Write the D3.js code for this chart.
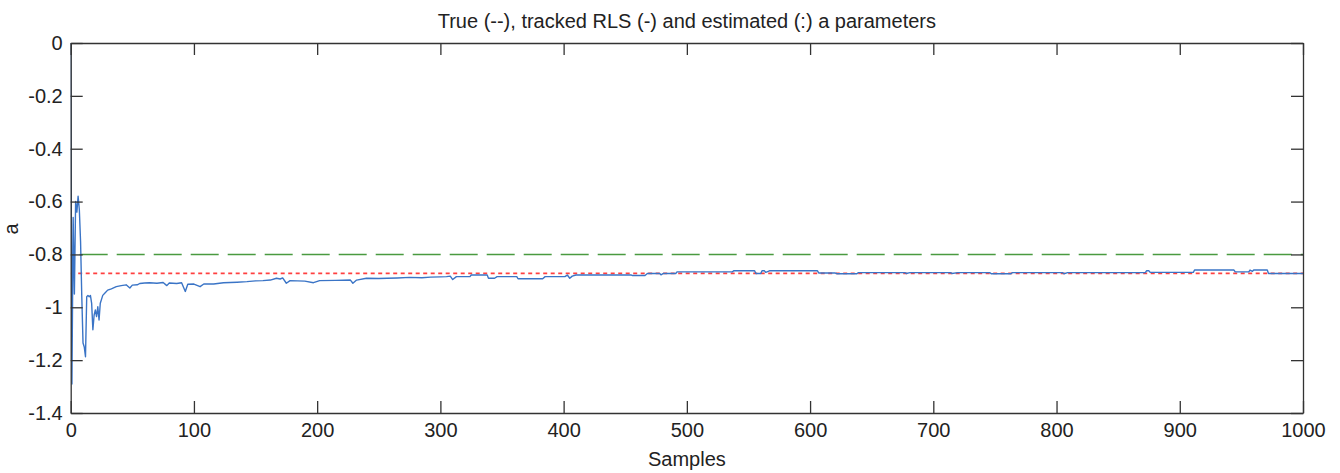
<!DOCTYPE html>
<html>
<head>
<meta charset="utf-8">
<script src="https://cdn.jsdelivr.net/npm/d3@7"></script>
<style>
  html, body { margin: 0; padding: 0; background: #fff; }
  svg { display: block; }
  text { font-family: "Liberation Sans", Arial, sans-serif; fill: #222; }
</style>
</head>
<body>
<svg id="chart" width="1340" height="473"></svg>
<script>
// ---- data ----
const titleText = "True (--), tracked RLS (-) and estimated (:) a parameters";
const xLabel = "Samples";
const yLabel = "a";
const xTicks = [0, 100, 200, 300, 400, 500, 600, 700, 800, 900, 1000];
const yTicks = [0, -0.2, -0.4, -0.6, -0.8, -1, -1.2, -1.4];
const yTickLabels = ["0", "-0.2", "-0.4", "-0.6", "-0.8", "-1", "-1.2", "-1.4"];
const xDomain = [0, 1000];
const yDomain = [-1.4, 0];

const trueValue = -0.8;
const estimatedValue = -0.872;

const rlsSamples = [
  0, 1, 2, 3, 4, 5, 6, 7, 8, 9, 10, 11, 12, 13, 14, 15, 16, 17, 18, 19, 20, 21, 22, 23, 24, 25, 26, 28, 30, 33,
  37, 41, 45, 48, 50, 54, 56, 60, 64, 70, 75, 78, 80, 86, 90, 93, 95, 100, 105, 108,
  116, 124, 135, 143, 150, 156, 162, 167, 170, 172, 175, 178, 190, 197, 202, 215, 227, 229, 232, 240,
  250, 257, 265, 275, 285, 292, 300, 305, 308, 310, 313, 324, 325, 338, 339, 344, 346, 362, 363, 383,
  385, 401, 403, 405, 407, 410, 455, 456, 466, 468, 478, 479, 481, 491, 492, 537, 538, 555, 556, 560,
  561, 563, 564, 567, 606, 607, 620, 622, 638, 639, 677, 678, 681, 714, 715, 720, 746, 747, 763, 764,
  805, 806, 809, 872, 873, 875, 876, 911, 912, 944, 945, 956, 957, 959, 960, 971, 972, 1000
];
const rlsValues = [
  0, -1.29, -0.66, -0.95, -0.6, -0.64, -0.58, -0.63, -0.75, -0.96, -1.135, -1.15, -1.187, -0.96, -0.955, -0.96, -0.955, -0.985, -1.085, -1.03, -1.01, -1.035, -0.998, -1.048, -0.985, -0.97, -0.955, -0.945, -0.935, -0.93,
  -0.922, -0.918, -0.915, -0.927, -0.916, -0.915, -0.91, -0.908, -0.907, -0.909, -0.906, -0.918, -0.908, -0.91, -0.907, -0.94, -0.913, -0.912, -0.922, -0.912,
  -0.912, -0.907, -0.905, -0.903, -0.9, -0.899, -0.897, -0.89, -0.893, -0.889, -0.909, -0.899, -0.901, -0.907, -0.899, -0.898, -0.897, -0.909, -0.897, -0.89,
  -0.891, -0.89, -0.889, -0.887, -0.888, -0.886, -0.885, -0.884, -0.882, -0.895, -0.884, -0.884, -0.878, -0.878, -0.89, -0.89, -0.884, -0.884, -0.892, -0.892,
  -0.884, -0.884, -0.878, -0.89, -0.882, -0.878, -0.878, -0.88, -0.88, -0.872, -0.872, -0.877, -0.872, -0.872, -0.866, -0.866, -0.862, -0.862, -0.872, -0.872,
  -0.862, -0.862, -0.868, -0.862, -0.862, -0.87, -0.87, -0.873, -0.873, -0.869, -0.869, -0.872, -0.869, -0.869, -0.872, -0.869, -0.869, -0.873, -0.873, -0.869,
  -0.869, -0.873, -0.869, -0.869, -0.862, -0.862, -0.868, -0.868, -0.859, -0.859, -0.866, -0.866, -0.859, -0.864, -0.859, -0.859, -0.872, -0.872
];

// ---- layout ----
const svg = d3.select("#chart");
const L = 70.7, R = 1303, T = 43, B = 413;
const x = d3.scaleLinear().domain(xDomain).range([L, R]);
const y = d3.scaleLinear().domain(yDomain).range([B, T]);
const fontSize = 20;
const tickLen = 12;
const axisColor = "#333";

const plot = svg.append("g");

svg.append("defs").append("clipPath").attr("id", "clip")
  .append("rect").attr("x", L).attr("y", T).attr("width", R - L).attr("height", B - T);

const lines = plot.append("g").attr("clip-path", "url(#clip)");

// true (green dashed)
lines.append("path")
  .datum(xDomain.map(s => ({ s, v: trueValue })))
  .attr("d", d3.line().x(d => x(d.s)).y(d => y(d.v)))
  .attr("fill", "none").attr("stroke", "#4a9a40").attr("stroke-width", 1.6)
  .attr("stroke-dasharray", "28,9").attr("stroke-dashoffset", -9);

// estimated (red dotted)
lines.append("path")
  .datum(xDomain.map(s => ({ s, v: estimatedValue })))
  .attr("d", d3.line().x(d => x(d.s)).y(d => y(d.v)))
  .attr("fill", "none").attr("stroke", "#ff4040").attr("stroke-width", 1.7)
  .attr("stroke-dasharray", "4,3.5");

// RLS (blue solid)
const rls = rlsSamples.map((s, i) => ({ s, v: rlsValues[i] }));
lines.append("path")
  .datum(rls)
  .attr("d", d3.line().x(d => x(d.s)).y(d => y(d.v)))
  .attr("fill", "none").attr("stroke", "#3a74c6").attr("stroke-width", 1.4)
  .attr("stroke-linejoin", "round");

// axes (box with inward ticks)
const axB = d3.axisBottom(x).tickValues(xTicks).tickSizeInner(-tickLen).tickSizeOuter(0).tickPadding(10).tickFormat(d3.format("d"));
const axT = d3.axisTop(x).tickValues(xTicks).tickSizeInner(-tickLen).tickSizeOuter(0).tickFormat("");
const axLft = d3.axisLeft(y).tickValues(yTicks).tickSizeInner(-tickLen).tickSizeOuter(0).tickPadding(8)
  .tickFormat((d, i) => yTickLabels[i]);
const axRt = d3.axisRight(y).tickValues(yTicks).tickSizeInner(-tickLen).tickSizeOuter(0).tickFormat("");

function style(g) {
  g.select(".domain").attr("stroke", axisColor).attr("stroke-width", 1.3);
  g.selectAll(".tick line").attr("stroke", axisColor).attr("stroke-width", 1.3);
  g.selectAll(".tick text").attr("font-size", fontSize).attr("fill", "#222")
    .style("font-family", '"Liberation Sans", Arial, sans-serif');
}
plot.append("g").attr("transform", `translate(0,${B})`).call(axB).call(style);
plot.append("g").attr("transform", `translate(0,${T})`).call(axT).call(style);
plot.append("g").attr("transform", `translate(${L},0)`).call(axLft).call(style);
plot.append("g").attr("transform", `translate(${R},0)`).call(axRt).call(style);

// labels
svg.append("text").attr("x", (L + R) / 2).attr("y", 28).attr("text-anchor", "middle")
  .attr("font-size", fontSize).text(titleText);
svg.append("text").attr("x", (L + R) / 2).attr("y", 466).attr("text-anchor", "middle")
  .attr("font-size", fontSize).text(xLabel);
svg.append("text").attr("transform", "translate(18,229) rotate(-90)").attr("text-anchor", "middle")
  .attr("font-size", fontSize).text(yLabel);
</script>
</body>
</html>
